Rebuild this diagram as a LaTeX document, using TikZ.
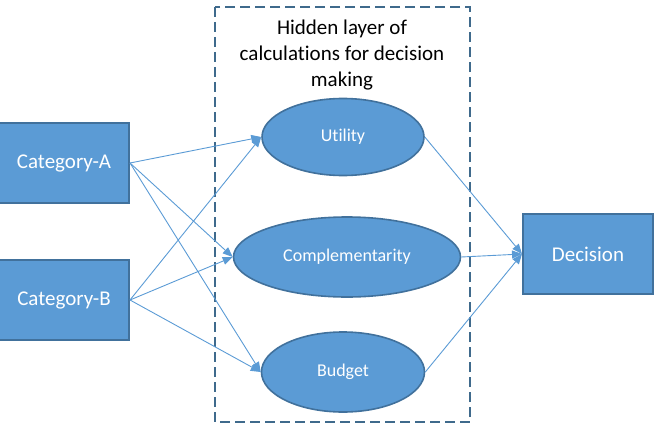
\documentclass[tikz,border=0pt]{standalone}
\usepackage{fontspec}
\setmainfont{Carlito}[Ligatures=NoCommon]
\usepackage{xcolor}
\usetikzlibrary{positioning, arrows.meta, shapes.geometric}

\definecolor{boxblue}{HTML}{5B9BD5}
\definecolor{edgeblue}{HTML}{41719C}
\definecolor{framegray}{HTML}{3F6A8C}

\begin{document}
\begin{tikzpicture}[
    x=1pt, y=-1pt,
    catbox/.style={draw=edgeblue, line width=2pt, fill=boxblue, text=white, minimum width=130pt, minimum height=80pt, inner sep=0pt, font=\fontsize{21}{26}\selectfont},
    calcnode/.style={ellipse, draw=edgeblue, line width=1.6pt, fill=boxblue, text=white, inner sep=0pt, font=\fontsize{18}{22}\selectfont},
    feed/.style={draw=boxblue, line width=0.9pt, -{Triangle[length=10pt, width=8pt]}}
]
\useasboundingbox (0,0) rectangle (656,428);

% hidden layer frame
\draw[framegray, line width=2.4pt, dash pattern=on 10pt off 5pt] (215,7) rectangle (470,422);
\node[align=center, font=\fontsize{21}{26}\selectfont] (title) at (342,55) {Hidden layer of\\calculations for decision\\making};

% inputs and output
\node[catbox] (catA) at (64,163) {Category-A};
\node[catbox] (catB) at (64,300) {Category-B};
\node[catbox] (decision) at (588,254) {Decision};

% hidden calculations
\node[calcnode, minimum width=162pt, minimum height=77pt] (utility) at (343,137) {Utility};
\node[calcnode, minimum width=227pt, minimum height=80pt] (compl) at (347,257) {Complementarity};
\node[calcnode, minimum width=163pt, minimum height=80pt] (budget) at (343,372) {Budget};

% connections
\foreach \src in {catA, catB}
    \foreach \dst in {utility, compl, budget}
        \draw[feed] (\src.east) -- (\dst.west);
\foreach \src in {utility, compl, budget}
    \draw[feed] (\src.east) -- (decision.west);
\end{tikzpicture}
\end{document}
